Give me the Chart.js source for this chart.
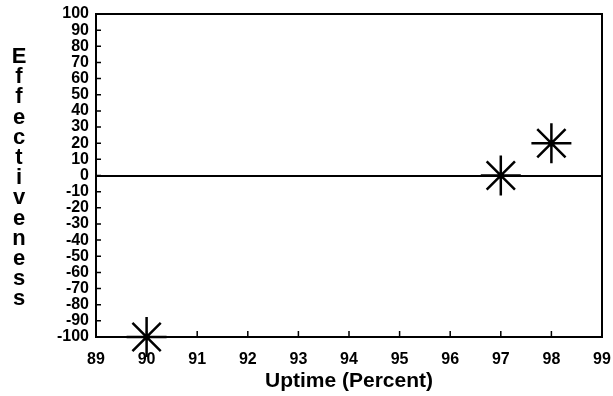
<!DOCTYPE html>
<html>
<head>
<meta charset="utf-8">
<script src="https://cdn.jsdelivr.net/npm/chart.js@4/dist/chart.umd.min.js"></script>
<style>
  html, body { margin: 0; padding: 0; background: #fff; }
  #wrap { width: 613px; height: 396px; position: relative; }
</style>
</head>
<body>
<div id="wrap"><canvas id="chart"></canvas></div>
<script>
// values
const uptime = [90, 97, 98];
const effectiveness = [-100, 0, 20];
const xTicks = [89, 90, 91, 92, 93, 94, 95, 96, 97, 98, 99];
const yTicks = [100, 90, 80, 70, 60, 50, 40, 30, 20, 10, 0, -10, -20, -30, -40, -50, -60, -70, -80, -90, -100];
const xTitle = "Uptime (Percent)";
const yTitle = "Effectivenes s";

const frameAndTicks = {
    id: "frameAndTicks",
    afterDraw(chart) {
        let ctx = chart.ctx;
        let a = chart.chartArea;
        let xs = chart.scales.x;
        let ys = chart.scales.y;
        ctx.save();
        ctx.strokeStyle = "#000";
        ctx.lineWidth = 2;
        ctx.strokeRect(a.left, a.top, a.right - a.left, a.bottom - a.top);
        ctx.lineWidth = 1.5;
        ctx.beginPath();
        yTicks.forEach(v => {
            let y = ys.getPixelForValue(v);
            ctx.moveTo(a.left, y);
            ctx.lineTo(a.left + 5, y);
        });
        xTicks.forEach(v => {
            let x = xs.getPixelForValue(v);
            ctx.moveTo(x, a.bottom);
            ctx.lineTo(x, a.bottom - 6);
        });
        ctx.stroke();

        // stacked y title
        ctx.fillStyle = "#000";
        ctx.font = "bold 22px 'Liberation Sans', Arial, sans-serif";
        ctx.textAlign = "center";
        ctx.textBaseline = "middle";
        let letters = yTitle.replace(" ", "").split("");
        letters.forEach((ch, i) => {
            ctx.fillText(ch, 19, 57 + i * 20.2);
        });
        ctx.restore();
    }
};

new Chart(document.getElementById("chart"), {
    type: "scatter",
    data: {
        datasets: [{
            data: uptime.map((x, i) => ({ x: x, y: effectiveness[i] })),
            pointStyle: "star",
            pointRadius: 20,
            pointHoverRadius: 20,
            borderColor: "#000",
            backgroundColor: "#000",
            borderWidth: 2.5,
            clip: false
        }]
    },
    options: {
        responsive: true,
        maintainAspectRatio: false,
        animation: false,
        events: [],
        layout: { autoPadding: false, padding: { top: 14, right: 11, left: 0, bottom: 0 } },
        plugins: { legend: { display: false }, tooltip: { enabled: false } },
        scales: {
            x: {
                type: "linear",
                min: 89,
                max: 99,
                afterBuildTicks: s => { s.ticks = xTicks.map(v => ({ value: v })); },
                afterFit: s => { s.height = 59; s.paddingLeft = 0; s.paddingRight = 0; },
                grid: { display: false },
                border: { display: false },
                ticks: {
                    color: "#000",
                    padding: 5,
                    font: { family: "'Liberation Sans', Arial, sans-serif", size: 16, weight: "bold" },
                    maxRotation: 0,
                    autoSkip: false
                },
                title: {
                    display: true,
                    text: xTitle,
                    color: "#000",
                    padding: { top: 0, bottom: 2 },
                    font: { family: "'Liberation Sans', Arial, sans-serif", size: 21, weight: "bold" }
                }
            },
            y: {
                type: "linear",
                min: -100,
                max: 100,
                afterBuildTicks: s => { s.ticks = yTicks.map(v => ({ value: v })); },
                afterFit: s => { s.width = 96; s.paddingTop = 0; s.paddingBottom = 0; },
                grid: {
                    drawTicks: false,
                    lineWidth: 2,
                    color: c => c.tick && c.tick.value === 0 ? "#000" : "rgba(0,0,0,0)"
                },
                border: { display: false },
                ticks: {
                    color: "#000",
                    padding: 7,
                    font: { family: "'Liberation Sans', Arial, sans-serif", size: 16, weight: "bold" },
                    autoSkip: false
                }
            }
        }
    },
    plugins: [frameAndTicks]
});
</script>
</body>
</html>
